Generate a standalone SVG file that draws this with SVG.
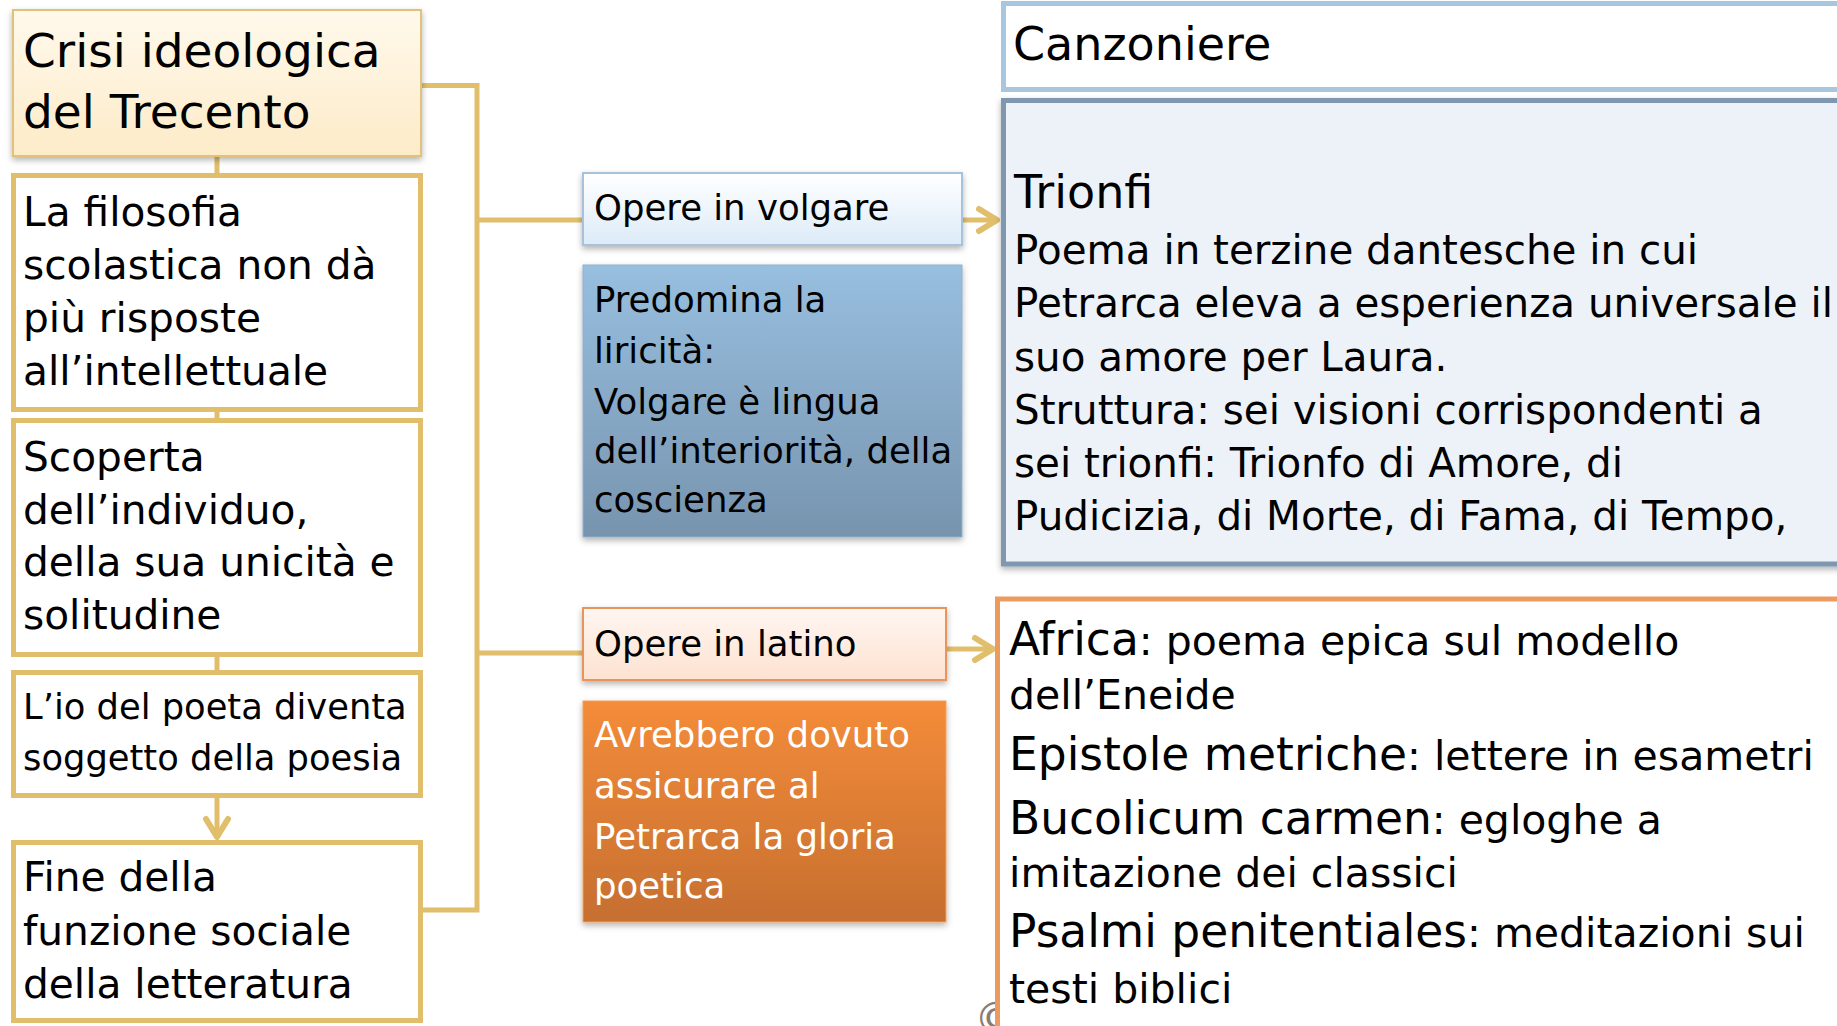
<svg xmlns="http://www.w3.org/2000/svg" width="1837" height="1026" viewBox="0 0 1837 1026">
<defs>
<style>
text{font-family:"DejaVu Sans","Liberation Sans",sans-serif;fill:#000}
.l40{font-size:40.7px}
.r40{font-size:40.4px}
.a40{font-size:41px}
.at{font-size:45.5px}
.l46{font-size:47px}
.m{font-size:35.5px}
.w{fill:#fff}
.gold{fill:#fff;stroke:#E0BE6B;stroke-width:5}
.conn{stroke:#E0BE6B;stroke-width:5;fill:none}
</style>
<linearGradient id="gCrisi" x1="0" y1="0" x2="0" y2="1"><stop offset="0" stop-color="#FFF9EC"/><stop offset="1" stop-color="#FDEBC8"/></linearGradient>
<linearGradient id="gVolg" x1="0" y1="0" x2="0" y2="1"><stop offset="0" stop-color="#FFFFFF"/><stop offset="1" stop-color="#DCEBF8"/></linearGradient>
<linearGradient id="gPred" x1="0" y1="0" x2="0" y2="1"><stop offset="0" stop-color="#98BFE0"/><stop offset="1" stop-color="#7794AE"/></linearGradient>
<linearGradient id="gLat" x1="0" y1="0" x2="0" y2="1"><stop offset="0" stop-color="#FFF6F1"/><stop offset="1" stop-color="#FDE2D1"/></linearGradient>
<linearGradient id="gAvr" x1="0" y1="0" x2="0" y2="1"><stop offset="0" stop-color="#F48C3A"/><stop offset="1" stop-color="#C66F30"/></linearGradient>
<filter id="sh" x="-5%" y="-10%" width="110%" height="130%"><feDropShadow dx="0" dy="3" stdDeviation="3" flood-color="#000" flood-opacity="0.3"/></filter>
<marker id="ah" markerUnits="userSpaceOnUse" markerWidth="30" markerHeight="34" viewBox="0 0 30 34" refX="20" refY="17" orient="auto">
<path d="M5,6 L23,17 L5,28" fill="none" stroke="#E0BE6B" stroke-width="6" stroke-linecap="round" stroke-linejoin="round"/>
</marker>
</defs>

<rect width="1837" height="1026" fill="#fff"/>

<text x="974" y="1034" style="font-size:44px;fill:#8C7B72">©</text>

<g id="connectors">
<line class="conn" x1="217" y1="157" x2="217" y2="175"/>
<line class="conn" x1="217" y1="410" x2="217" y2="420"/>
<line class="conn" x1="217" y1="655" x2="217" y2="672"/>
<line class="conn" x1="217" y1="796" x2="217" y2="834" marker-end="url(#ah)"/>
<polyline class="conn" points="421,85.5 477,85.5 477,910 423,910"/>
<line class="conn" x1="477" y1="220" x2="583" y2="220"/>
<line class="conn" x1="477" y1="653" x2="583" y2="653"/>
<line class="conn" x1="962" y1="220" x2="994" y2="220" marker-end="url(#ah)"/>
<line class="conn" x1="946" y1="649" x2="990" y2="649" marker-end="url(#ah)"/>
</g>

<g id="crisi">
<rect x="13" y="10" width="408" height="146" fill="url(#gCrisi)" stroke="#E2C27A" stroke-width="2" filter="url(#sh)"/>
<text class="l46" x="23" y="67">Crisi ideologica</text>
<text class="l46" x="23" y="128">del Trecento</text>
</g>

<g id="filosofia">
<rect class="gold" x="13.5" y="175.5" width="407" height="234"/>
<text class="l40" x="23" y="226">La filosofia</text>
<text class="l40" x="23" y="279">scolastica non dà</text>
<text class="l40" x="23" y="332">più risposte</text>
<text class="l40" x="23" y="385">all’intellettuale</text>
</g>

<g id="scoperta">
<rect class="gold" x="13.5" y="420.5" width="407" height="234"/>
<text class="l40" x="23" y="471">Scoperta</text>
<text class="l40" x="23" y="524">dell’individuo,</text>
<text class="l40" x="23" y="576">della sua unicità e</text>
<text class="l40" x="23" y="629">solitudine</text>
</g>

<g id="io">
<rect class="gold" x="13.5" y="672.5" width="407" height="123"/>
<text x="23" y="719" style="font-size:35.3px">L’io del poeta diventa</text>
<text x="23" y="770" style="font-size:35.3px">soggetto della poesia</text>
</g>

<g id="fine">
<rect class="gold" x="13.5" y="842.5" width="407" height="178"/>
<text class="l40" x="23" y="891">Fine della</text>
<text class="l40" x="23" y="945">funzione sociale</text>
<text class="l40" x="23" y="998">della letteratura</text>
</g>

<g id="volgare">
<rect x="583" y="173" width="379" height="72" fill="url(#gVolg)" stroke="#A7C2DA" stroke-width="2" filter="url(#sh)"/>
<text class="m" x="594" y="220">Opere in volgare</text>
</g>

<g id="predomina">
<rect x="583" y="265" width="379" height="272" fill="url(#gPred)" stroke="#8FB0CC" stroke-width="1" filter="url(#sh)"/>
<text class="m" x="594" y="312">Predomina la</text>
<text class="m" x="594" y="363">liricità:</text>
<text class="m" x="594" y="414">Volgare è lingua</text>
<text class="m" x="594" y="463">dell’interiorità, della</text>
<text class="m" x="594" y="512">coscienza</text>
</g>

<g id="latino">
<rect x="583" y="608" width="363" height="72" fill="url(#gLat)" stroke="#E8945A" stroke-width="2" filter="url(#sh)"/>
<text class="m" x="594" y="656">Opere in latino</text>
</g>

<g id="avrebbero">
<rect x="583" y="701" width="363" height="221" fill="url(#gAvr)" stroke="#F0A060" stroke-width="1" filter="url(#sh)"/>
<text class="m w" x="594" y="747">Avrebbero dovuto</text>
<text class="m w" x="594" y="798">assicurare al</text>
<text class="m w" x="594" y="849">Petrarca la gloria</text>
<text class="m w" x="594" y="898">poetica</text>
</g>

<g id="canzoniere">
<rect x="1003.5" y="3.5" width="860" height="86" fill="#fff" stroke="#A9C6DF" stroke-width="5"/>
<text class="l46" x="1013" y="60" style="font-size:46px">Canzoniere</text>
</g>

<g id="trionfi">
<rect x="1003.5" y="100.5" width="860" height="463.5" fill="#EDF2F9" stroke="#8098AF" stroke-width="5" filter="url(#sh)"/>
<text x="1014" y="208" style="font-size:46px">Trionfi</text>
<text class="r40" x="1014" y="264">Poema in terzine dantesche in cui</text>
<text class="r40" x="1014" y="317">Petrarca eleva a esperienza universale il</text>
<text class="r40" x="1014" y="371">suo amore per Laura.</text>
<text class="r40" x="1014" y="424">Struttura: sei visioni corrispondenti a</text>
<text class="r40" x="1014" y="477">sei trionfi: Trionfo di Amore, di</text>
<text class="r40" x="1014" y="530">Pudicizia, di Morte, di Fama, di Tempo,</text>
</g>

<g id="africa">
<rect x="997.5" y="599" width="860" height="460" fill="#fff" stroke="#EB9A60" stroke-width="5"/>
<text class="a40" x="1009" y="655"><tspan class="at">Africa</tspan>: poema epica sul modello</text>
<text class="a40" x="1009" y="709">dell’Eneide</text>
<text class="a40" x="1009" y="770"><tspan class="at">Epistole metriche</tspan>: lettere in esametri</text>
<text class="a40" x="1009" y="834"><tspan class="at">Bucolicum carmen</tspan>: egloghe a</text>
<text class="a40" x="1009" y="887">imitazione dei classici</text>
<text class="a40" x="1009" y="947"><tspan class="at">Psalmi penitentiales</tspan>: meditazioni sui</text>
<text class="a40" x="1009" y="1003">testi biblici</text>
</g>
</svg>
